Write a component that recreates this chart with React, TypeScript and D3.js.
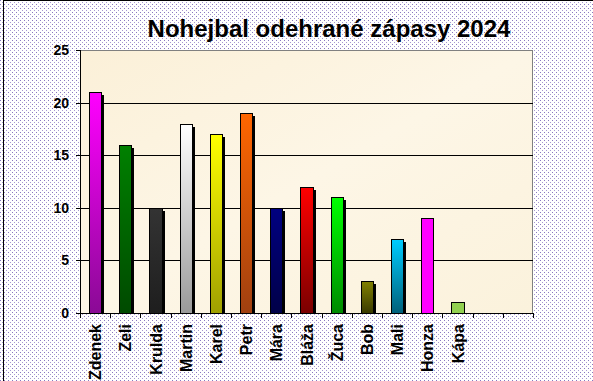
import React from "react";
import * as d3 from "d3";

const categories = ["Zdenek", "Zeli", "Krulda", "Martin", "Karel", "Petr", "Mára", "Bláža", "Žuca", "Bob", "Mali", "Honza", "Kápa", "", " "];
const values = [21, 16, 10, 18, 17, 19, 10, 12, 11, 3, 7, 9, 1, null, null];
const topColors = ["#FF00FF", "#008000", "#333333", "#FFFFFF", "#FFFF00", "#FF6600", "#000080", "#FF0000", "#00FF00", "#808000", "#00CCFF", "#FF00FF", "#92D050", "", ""];
const bottomColors = ["#8A0A95", "#004A00", "#1E1E1E", "#9A9A9A", "#A0A000", "#A04010", "#000048", "#7A0000", "#008A00", "#3A3A00", "#00607A", "#FF00FF", "#92D050", "", ""];
const hasShadow = [true, true, true, true, true, true, true, true, true, true, true, false, false, false, false];
const yTicks = [0, 5, 10, 15, 20, 25];
const title = "Nohejbal odehrané zápasy 2024";

const W = 593, H = 381;
const plot = { left: 80, right: 533, top: 50, bottom: 313 };

export default function App() {
  const x = d3.scaleBand<string>().domain(categories).range([plot.left, plot.right]).paddingInner(0.6).paddingOuter(0.3);
  const y = d3.scaleLinear().domain([0, 25]).range([plot.bottom, plot.top]);
  const font = "Arial, 'Liberation Sans', sans-serif";
  const boundaries = d3.range(categories.length + 1).map((i) => plot.left + (plot.right - plot.left) * i / categories.length);

  return (
    <svg width={W} height={H} style={{ position: "absolute", left: 0, top: 0, display: "block" }} shapeRendering="crispEdges">
      <defs>
        <pattern id="dots" width={4} height={4} patternUnits="userSpaceOnUse">
          <rect width={4} height={4} fill="#FFFFFF" />
          <rect x={0} y={0} width={1} height={1} fill="#8A78C0" />
          <rect x={2} y={2} width={1} height={1} fill="#A898D0" />
        </pattern>
        <linearGradient id="plotbg" x1="0" y1="0" x2="1" y2="1">
          <stop offset="0" stopColor="#FBF0D8" />
          <stop offset="0.5" stopColor="#FDF6E6" />
          <stop offset="1" stopColor="#FBF2DC" />
        </linearGradient>
        {categories.map((c, i) => (
          <linearGradient key={i} id={`g${i}`} x1="0" y1="0" x2="0" y2="1">
            <stop offset="0" stopColor={topColors[i] || "#000"} />
            <stop offset="1" stopColor={bottomColors[i] || "#000"} />
          </linearGradient>
        ))}
        <clipPath id="plotclip">
          <rect x={plot.left} y={0} width={plot.right - plot.left} height={plot.bottom} />
        </clipPath>
      </defs>
      <rect x={0} y={0} width={W} height={H} fill="url(#dots)" />
      <path d={`M3.5,${H} V0.5 H${W}`} fill="none" stroke="#000" strokeWidth={1} />
      <rect x={plot.left} y={plot.top} width={plot.right - plot.left} height={plot.bottom - plot.top} fill="url(#plotbg)" />
      <path d={`M${plot.left},${plot.top + 0.5} H${plot.right - 0.5} V${plot.bottom}`} fill="none" stroke="#808080" strokeWidth={1} />
      {yTicks.filter((t) => t > 0 && t < 25).map((t) => (
        <line key={t} x1={plot.left} x2={plot.right} y1={Math.round(y(t)) + 0.5} y2={Math.round(y(t)) + 0.5} stroke="#000" strokeWidth={1} />
      ))}
      <g clipPath="url(#plotclip)">
        {categories.map((c, i) => {
          const v = values[i];
          if (v == null || !hasShadow[i]) return null;
          return <rect key={"s" + i} x={(x(c) as number) + 3} y={y(v) + 3} width={x.bandwidth()} height={plot.bottom - y(v)} fill="#000" />;
        })}
      </g>
      {categories.map((c, i) => {
        const v = values[i];
        if (v == null) return null;
        return (
          <rect key={"b" + i} x={(x(c) as number) + 0.5} y={y(v) + 0.5} width={x.bandwidth()} height={plot.bottom - y(v) - 0.5}
            fill={`url(#g${i})`} stroke="#000" strokeWidth={1} />
        );
      })}
      <line x1={plot.left + 0.5} x2={plot.left + 0.5} y1={plot.top} y2={plot.bottom} stroke="#000" />
      <line x1={plot.left} x2={plot.right} y1={plot.bottom + 0.5} y2={plot.bottom + 0.5} stroke="#000" />
      {yTicks.map((t) => (
        <g key={"yt" + t}>
          <line x1={plot.left - 4} x2={plot.left} y1={Math.round(y(t)) + 0.5} y2={Math.round(y(t)) + 0.5} stroke="#000" />
          <text x={69} y={y(t)} dy="0.36em" textAnchor="end" fontFamily={font} fontWeight="bold" fontSize={14} fill="#000" shapeRendering="auto">{t}</text>
        </g>
      ))}
      {boundaries.map((b, i) => (
        <line key={"xt" + i} x1={Math.round(b) + 0.5} x2={Math.round(b) + 0.5} y1={plot.bottom} y2={plot.bottom + 5} stroke="#000" />
      ))}
      {categories.map((c, i) => {
        const cx = (x(c) as number) + x.bandwidth() / 2;
        return (
          <text key={"xl" + i} transform={`translate(${cx + 6},${324}) rotate(-90)`} textAnchor="end" fontFamily={font} fontWeight="bold" fontSize={16} fill="#000">{c}</text>
        );
      })}
      <text x={329} y={37} textAnchor="middle" fontFamily={font} fontWeight="bold" fontSize={24} fill="#000">{title}</text>
    </svg>
  );
}
